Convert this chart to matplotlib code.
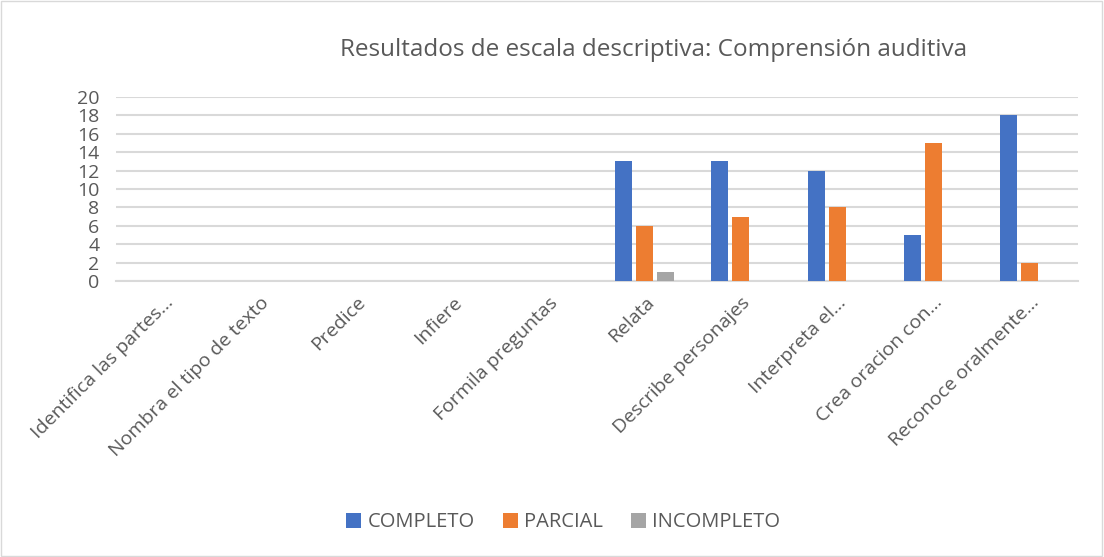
import numpy as np
import matplotlib
matplotlib.use("Agg")
import matplotlib.pyplot as plt
from matplotlib.patches import Rectangle

# Data
categories = [
    "Identifica las partes…", "Nombra el tipo de texto", "Predice", "Infiere",
    "Formila preguntas", "Relata", "Describe personajes", "Interpreta el…",
    "Crea oracion con…", "Reconoce oralmente…",
]
completo   = [0, 0, 0, 0, 0, 13, 13, 12, 5, 18]
parcial    = [0, 0, 0, 0, 0, 6, 7, 8, 15, 2]
incompleto = [0, 0, 0, 0, 0, 1, 0, 0, 0, 0]
series_names = ["COMPLETO", "PARCIAL", "INCOMPLETO"]
colors = ["#4472C4", "#ED7D31", "#A5A5A5"]

plt.rcParams["font.family"] = ["Open Sans", "DejaVu Sans"]
TXT = "#595959"

fig = plt.figure(figsize=(11.04, 5.57), dpi=100)
fig.patches.append(Rectangle((0.0005, 0.001), 0.998, 0.997, transform=fig.transFigure,
                             fill=False, edgecolor="#d9d9d9", linewidth=1))
ax = fig.add_axes([0.105, 0.4955, 0.871, 0.3305])

x = np.arange(len(categories))
w = 0.177
off = 0.218
for i, (vals, name) in enumerate(zip([completo, parcial, incompleto], series_names)):
    ax.bar(x + (i - 1) * off, vals, width=w, color=colors[i], label=name, zorder=3)

ax.set_xlim(-0.5, len(categories) - 0.5)
ax.set_ylim(0, 20)
ax.set_yticks(range(0, 21, 2))
ax.yaxis.grid(True, color="#d9d9d9", linewidth=1.5, zorder=0)
ax.tick_params(axis="y", length=0, labelsize=14, labelcolor=TXT, pad=12)
ax.tick_params(axis="x", length=0, labelsize=14, labelcolor=TXT, pad=9)
for s in ["top", "right", "left"]:
    ax.spines[s].set_visible(False)
ax.spines["bottom"].set_color("#d9d9d9")
ax.spines["bottom"].set_linewidth(1.5)
ax.set_xticks(x)
ax.set_xticklabels(categories, rotation=45, ha="right", rotation_mode="anchor")

fig.text(0.592, 0.91, "Resultados de escala descriptiva: Comprensión auditiva",
         ha="center", va="center", fontsize=17.5, color=TXT)

leg = fig.legend(loc="center", bbox_to_anchor=(0.51, 0.062), ncol=3, frameon=False,
                 fontsize=14.5, handlelength=0.75, handleheight=0.75, columnspacing=1.4,
                 handletextpad=0.3)
for t in leg.get_texts():
    t.set_color(TXT)

fig.savefig("out.png", dpi=100)
